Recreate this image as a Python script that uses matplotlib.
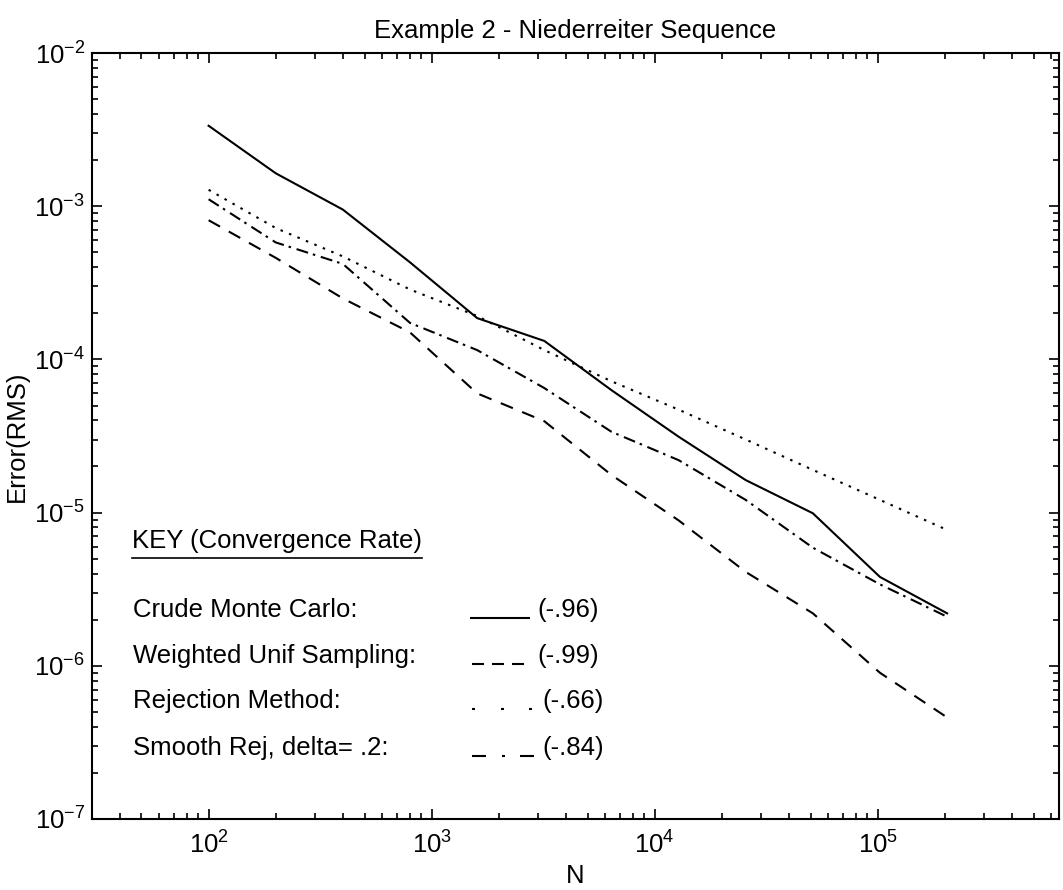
import numpy as np
import matplotlib
matplotlib.use("Agg")
import matplotlib.pyplot as plt
from matplotlib.lines import Line2D

plt.rcParams['font.family'] = ['Liberation Sans', 'DejaVu Sans']
plt.rcParams['mathtext.fontset'] = 'custom'
plt.rcParams['mathtext.rm'] = 'Liberation Sans'
plt.rcParams['mathtext.it'] = 'Liberation Sans:italic'
plt.rcParams['mathtext.bf'] = 'Liberation Sans:bold'
plt.rcParams['axes.unicode_minus'] = False

# data
N = [100, 200, 400, 800, 1600, 3200, 6400, 12800, 25600, 51200, 102400, 204800]
crude = [3.35e-3, 1.64e-3, 9.5e-4, 4.3e-4, 1.86e-4, 1.32e-4, 6.3e-5, 3.13e-5,
         1.63e-5, 9.9e-6, 3.8e-6, 2.2e-6]
weighted = [8.1e-4, 4.6e-4, 2.5e-4, 1.5e-4, 6.0e-5, 3.95e-5, 1.76e-5, 8.9e-6,
            4.1e-6, 2.2e-6, 9.0e-7, 4.6e-7]
rejection = [1.28e-3, 7.2e-4, 4.7e-4, 2.86e-4, 1.92e-4, 1.15e-4, 7.2e-5, 4.7e-5,
             3.0e-5, 1.9e-5, 1.21e-5, 7.7e-6]
smooth = [1.11e-3, 5.8e-4, 4.2e-4, 1.73e-4, 1.15e-4, 6.5e-5, 3.37e-5, 2.2e-5,
          1.21e-5, 5.9e-6, 3.4e-6, 2.09e-6]

key_names = ["Crude Monte Carlo:", "Weighted Unif Sampling:", "Rejection Method:",
             "Smooth Rej, delta= .2:"]
key_rates = ["(-.96)", "(-.99)", "(-.66)", "(-.84)"]

W, H = 1063, 890
FS = 18.5
LW = 1.5


def fx(px):
    return px / W


def fy(py):
    return 1 - py / H


fig = plt.figure(figsize=(W / 100, H / 100), dpi=100)
ax = fig.add_axes([fx(92), fy(819), fx(1059) - fx(92), fy(53) - fy(819)])

ax.plot(N, crude, color='black', lw=LW, ls='-')
ax.plot(N, weighted, color='black', lw=LW, ls=(0, (6.3, 4.8)))
ax.plot(N, rejection, color='black', lw=LW, ls=(0, (1.2, 3.2)))
ax.plot(N, smooth, color='black', lw=LW, ls=(0, (5.8, 2.4, 1.2, 2.8)))

ax.set_xscale('log')
ax.set_yscale('log')
ax.set_xlim(30, 6.5e5)
ax.set_ylim(1e-7, 1e-2)

for s in ax.spines.values():
    s.set_linewidth(1.5)
ax.tick_params(which='both', direction='in', top=True, right=True, width=1.2)
ax.tick_params(which='major', length=7, labelsize=FS)
ax.tick_params(which='minor', length=4)
ax.tick_params(axis='x', pad=9)
ax.tick_params(axis='y', pad=5)

ax.set_title("Example 2 - Niederreiter Sequence", fontsize=FS, pad=11)
ax.set_xlabel("N", fontsize=FS, labelpad=4)
ax.set_ylabel("Error(RMS)", fontsize=FS, labelpad=4)

# hand-drawn style key inside the axes
fig.text(fx(132), fy(548), "KEY (Convergence Rate)", fontsize=FS, va='baseline')
fig.add_artist(Line2D([fx(132), fx(422)], [fy(558), fy(558)],
                      transform=fig.transFigure, color='black', lw=1.2))

baselines = [617, 663, 708, 755]
rate_x = [537, 537, 542, 542]
samples = [
    [(470, 530)],
    [(472, 484), (492, 504), (512, 524)],
    [(472, 475), (501, 504), (529, 532)],
    [(472, 486), (501.5, 504.5), (520, 534)],
]
for name, rate, yb, rx, segs in zip(key_names, key_rates, baselines, rate_x, samples):
    fig.text(fx(133), fy(yb), name, fontsize=FS, va='baseline')
    fig.text(fx(rx), fy(yb), rate, fontsize=FS, va='baseline')
    for x0, x1 in segs:
        fig.add_artist(Line2D([fx(x0), fx(x1)], [fy(yb + 1), fy(yb + 1)],
                              transform=fig.transFigure, color='black',
                              lw=LW, solid_capstyle='butt'))

fig.savefig("out.png", dpi=100)
